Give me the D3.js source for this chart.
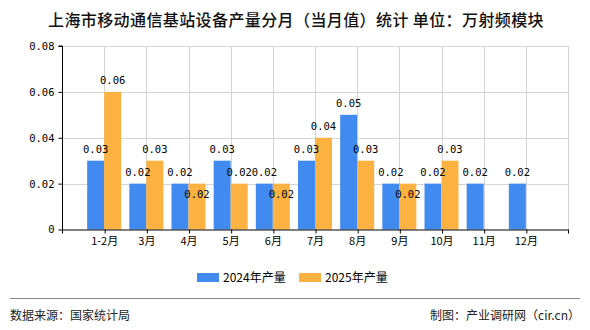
<!DOCTYPE html>
<html><head><meta charset="utf-8">
<script src="https://cdn.jsdelivr.net/npm/d3@7"></script>
<style>body{margin:0;background:#fff}svg{display:block}</style>
</head><body>
<svg id="c" width="590" height="330"></svg>
<script>
const categories = ["1-2月","3月","4月","5月","6月","7月","8月","9月","10月","11月","12月"];
const values2024 = [0.03,0.02,0.02,0.03,0.02,0.03,0.05,0.02,0.02,0.02,0.02];
const values2025 = [0.06,0.03,0.02,0.02,0.02,0.04,0.03,0.02,0.03,null,null];
const seriesNames = ["2024年产量","2025年产量"];
const yTicks = [0,0.02,0.04,0.06,0.08];
const colors = ["#418AEF","#FBB241"];

const svg = d3.select("#c");
const L=62,R=568,T=46,B=229.5;
const x = d3.scalePoint().domain(categories).range([L,R]).padding(1);
const y = d3.scaleLinear().domain([0,0.08]).range([B,T]);
const bw = 17;
const mono = "'DejaVu Sans Mono', monospace";
const cjk = "'Noto Sans CJK SC', sans-serif";

// title
svg.append("text").attr("x",296).attr("y",26).attr("text-anchor","middle")
  .attr("font-family",cjk).attr("font-size",16).attr("font-weight",500).attr("fill","#111")
  .attr("letter-spacing","0.4px")
  .text("上海市移动通信基站设备产量分月（当月值）统计 单位：万射频模块");

// grid
const g = svg.append("g");
g.selectAll(".hg").data(yTicks.slice(1)).join("line")
  .attr("x1",L).attr("x2",R).attr("y1",d=>Math.round(y(d))+0.5).attr("y2",d=>Math.round(y(d))+0.5)
  .attr("stroke","#d4d4d4");
g.selectAll(".vg").data(categories).join("line")
  .attr("x1",d=>Math.round(x(d))+0.5).attr("x2",d=>Math.round(x(d))+0.5).attr("y1",T).attr("y2",B)
  .attr("stroke","#d4d4d4");
g.append("line").attr("x1",R+0.5).attr("x2",R+0.5).attr("y1",T).attr("y2",B).attr("stroke","#d4d4d4");

// bars
const series = [values2024, values2025];
series.forEach((vals,si)=>{
  svg.append("g").selectAll("rect").data(categories.map((c,i)=>({c,v:vals[i]})).filter(d=>d.v!=null))
    .join("rect")
    .attr("x",d=>si===0?x(d.c)-bw:x(d.c))
    .attr("y",d=>y(d.v)).attr("width",bw).attr("height",d=>B-y(d.v))
    .attr("fill",colors[si]);
});

// axes
const yAxis = d3.axisLeft(y).tickValues(yTicks).tickSize(4).tickFormat(d=>d===0?"0":d3.format(".2f")(d));
const ya = svg.append("g").attr("transform",`translate(${L+0.5},0)`).call(yAxis);
ya.select(".domain").attr("stroke","#000").attr("d",`M-4,${T}H0V${B}`);
ya.selectAll(".tick line").attr("stroke","#000");
ya.selectAll("text").attr("font-family",mono).attr("font-size",10.5).attr("fill","#000").attr("x",-8);

const xAxis = d3.axisBottom(x).tickSize(4).tickSizeOuter(0);
const xa = svg.append("g").attr("transform",`translate(0,${B})`).call(xAxis);
xa.select(".domain").attr("stroke","#000").attr("d",`M${L},0.5H${R+0.5}`);
xa.selectAll(".tick line").attr("stroke","#000").attr("transform","translate(0.5,0)");
xa.selectAll("text").attr("font-family",cjk).attr("font-size",11).attr("fill","#000").attr("dy","0.75em").attr("y",7);
xa.append("line").attr("x1",L+0.5).attr("x2",L+0.5).attr("y1",0).attr("y2",4).attr("stroke","#000");
xa.append("line").attr("x1",R+0.5).attr("x2",R+0.5).attr("y1",0).attr("y2",4).attr("stroke","#000");

// labels
const lab = svg.append("g").attr("font-family",mono).attr("font-size",10.5).attr("fill","#000").attr("text-anchor","middle");
categories.forEach((c,i)=>{
  const a=values2024[i], b=values2025[i];
  if(a!=null) lab.append("text").attr("x",x(c)-bw/2).attr("y",y(a)-8).text(d3.format(".2f")(a));
  if(b!=null){
    const inside = (a!=null && a===b);
    lab.append("text").attr("x",x(c)+bw/2).attr("y",inside?y(b)+14:y(b)-8).text(d3.format(".2f")(b));
  }
});

// legend
const lg = svg.append("g").attr("font-family",cjk).attr("font-size",12).attr("fill","#000");
[[197,seriesNames[0],colors[0]],[299,seriesNames[1],colors[1]]].forEach(([lx,t,col])=>{
  lg.append("rect").attr("x",lx).attr("y",273).attr("width",22).attr("height",9).attr("fill",col);
  lg.append("text").attr("x",lx+26).attr("y",282).text(t);
});

// footer
svg.append("line").attr("x1",10).attr("x2",580).attr("y1",298.5).attr("y2",298.5).attr("stroke","#888");
svg.append("text").attr("x",10).attr("y",320).attr("font-family",cjk).attr("font-size",12).attr("fill","#222").text("数据来源：国家统计局");
svg.append("text").attr("x",580).attr("y",320).attr("text-anchor","end").attr("font-family",cjk).attr("font-size",12).attr("fill","#222").text("制图：产业调研网（cir.cn）");
</script>
</body></html>
